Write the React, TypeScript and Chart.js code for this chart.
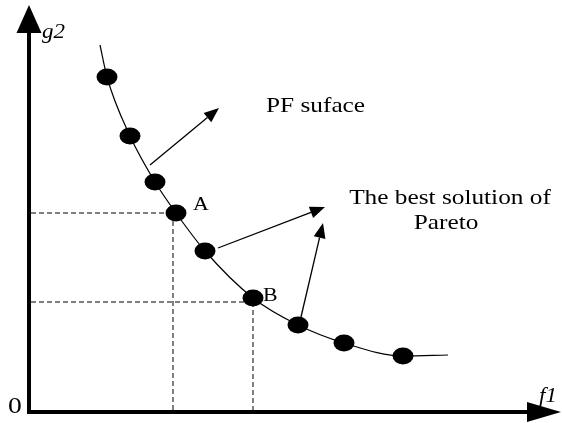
import React, { useEffect, useRef } from "react";
import { Chart, registerables } from "chart.js";

Chart.register(...registerables);

// Pareto front solutions (f1, g2)
const solF1 = [78, 101, 126, 147, 176, 224, 269, 315, 374];
const solG2 = [335, 276, 230, 199, 161, 114, 87, 69, 56];

// PF surface curve (runs through the solutions, extends past both ends)
const curveF1 = [71, 78, 101, 126, 147, 176, 224, 269, 315, 374, 419];
const curveG2 = [367, 335, 276, 230, 199, 161, 114, 87, 69, 56, 57];

// Projection guides for solutions A and B
const guideF1 = [144, 224];
const guideG2 = [199, 110];

// Arrows: from (f1, g2) to (f1, g2)
const arrowFromF1 = [121, 189, 272];
const arrowFromG2 = [247, 164, 95];
const arrowToF1 = [190, 296, 294];
const arrowToG2 = [304, 205, 189];

// Axis extents
const axisMaxF1 = 532;
const axisMaxG2 = 407;

// Text labels
const labelTexts = ["g2", "f1", "0", "A", "B", "PF suface", "The best solution of", "Pareto"];
const labelF1 = [13, 510, -21, 164, 234, 237, 421, 417];
const labelG2 = [374, 10, -1, 202, 111, 300, 208, 183];

const SERIF = "'Liberation Serif', 'Times New Roman', serif";

export default function App() {
  const ref = useRef<HTMLCanvasElement | null>(null);

  useEffect(() => {
    const canvas = ref.current;
    if (!canvas) return;
    let chart: Chart | null = null;
    let cancelled = false;

    const dot = document.createElement("canvas");
    dot.width = 22;
    dot.height = 18;
    const dctx = dot.getContext("2d")!;
    dctx.fillStyle = "#000";
    dctx.beginPath();
    dctx.ellipse(11, 9, 10.5, 8.5, 0, 0, Math.PI * 2);
    dctx.fill();

    const labelStyles = [
      { font: `italic 20px ${SERIF}`, align: "left" },
      { font: `italic 20px ${SERIF}`, align: "left" },
      { font: `24px ${SERIF}`, align: "left" },
      { font: `19px ${SERIF}`, align: "left" },
      { font: `19px ${SERIF}`, align: "left" },
      { font: `22px ${SERIF}`, align: "left" },
      { font: `22px ${SERIF}`, align: "center" },
      { font: `22px ${SERIF}`, align: "center" },
    ];

    const decor = {
      id: "decor",
      beforeDatasetsDraw(c: any) {
        const ctx = c.ctx as CanvasRenderingContext2D;
        const xs = c.scales.x;
        const ys = c.scales.y;
        const x0 = xs.getPixelForValue(0);
        const y0 = ys.getPixelForValue(0);
        ctx.save();
        ctx.strokeStyle = "#000";
        ctx.lineWidth = 1;
        ctx.setLineDash([5, 3]);
        for (let i = 0; i < guideF1.length; i++) {
          const gx = xs.getPixelForValue(guideF1[i]);
          const gy = ys.getPixelForValue(guideG2[i]);
          ctx.beginPath();
          ctx.moveTo(x0 + 2, gy);
          ctx.lineTo(gx, gy);
          ctx.moveTo(gx, gy);
          ctx.lineTo(gx, y0 - 2);
          ctx.stroke();
        }
        ctx.restore();
      },
      afterDatasetsDraw(c: any) {
        const ctx = c.ctx as CanvasRenderingContext2D;
        const xs = c.scales.x;
        const ys = c.scales.y;
        const x0 = xs.getPixelForValue(0);
        const y0 = ys.getPixelForValue(0);
        const xEnd = xs.getPixelForValue(axisMaxF1);
        const yEnd = ys.getPixelForValue(axisMaxG2);
        ctx.save();
        ctx.fillStyle = "#000";
        ctx.strokeStyle = "#000";
        // axes
        ctx.lineWidth = 4;
        ctx.beginPath();
        ctx.moveTo(x0, y0 + 2);
        ctx.lineTo(x0, yEnd + 20);
        ctx.moveTo(x0 - 2, y0);
        ctx.lineTo(xEnd - 20, y0);
        ctx.stroke();
        ctx.beginPath();
        ctx.moveTo(x0, yEnd);
        ctx.lineTo(x0 - 12.5, yEnd + 28);
        ctx.lineTo(x0 + 12.5, yEnd + 28);
        ctx.closePath();
        ctx.fill();
        ctx.beginPath();
        ctx.moveTo(xEnd, y0);
        ctx.lineTo(xEnd - 34, y0 - 10);
        ctx.lineTo(xEnd - 34, y0 + 10);
        ctx.closePath();
        ctx.fill();
        // arrows
        ctx.lineWidth = 1.3;
        for (let i = 0; i < arrowFromF1.length; i++) {
          const ax = xs.getPixelForValue(arrowFromF1[i]);
          const ay = ys.getPixelForValue(arrowFromG2[i]);
          const bx = xs.getPixelForValue(arrowToF1[i]);
          const by = ys.getPixelForValue(arrowToG2[i]);
          const ang = Math.atan2(by - ay, bx - ax);
          const len = 15;
          const hw = 6;
          const cx = bx - len * Math.cos(ang);
          const cy = by - len * Math.sin(ang);
          ctx.beginPath();
          ctx.moveTo(ax, ay);
          ctx.lineTo(cx, cy);
          ctx.stroke();
          ctx.beginPath();
          ctx.moveTo(bx, by);
          ctx.lineTo(cx - hw * Math.sin(ang), cy + hw * Math.cos(ang));
          ctx.lineTo(cx + hw * Math.sin(ang), cy - hw * Math.cos(ang));
          ctx.closePath();
          ctx.fill();
        }
        // labels
        ctx.textBaseline = "alphabetic";
        for (let i = 0; i < labelTexts.length; i++) {
          const lx = xs.getPixelForValue(labelF1[i]);
          const ly = ys.getPixelForValue(labelG2[i]);
          ctx.save();
          ctx.font = labelStyles[i].font;
          ctx.textAlign = labelStyles[i].align as CanvasTextAlign;
          ctx.translate(lx, ly);
          ctx.scale(1.15, 1);
          ctx.fillText(labelTexts[i], 0, 0);
          ctx.restore();
        }
        ctx.restore();
      },
    };

    const build = () => {
      if (cancelled) return;
      chart = new Chart(canvas, {
        type: "scatter",
        data: {
          datasets: [
            {
              label: "PF surface",
              data: curveF1.map((x, i) => ({ x, y: curveG2[i] })),
              showLine: true,
              borderColor: "#000",
              borderWidth: 1.2,
              pointRadius: 0,
              cubicInterpolationMode: "monotone",
              clip: false as any,
              order: 2,
            },
            {
              label: "Solutions",
              data: solF1.map((x, i) => ({ x, y: solG2[i] })),
              showLine: false,
              pointStyle: dot as any,
              pointRadius: 10,
              clip: false as any,
              order: 1,
            },
          ],
        },
        options: {
          animation: false,
          responsive: false,
          devicePixelRatio: 1,
          layout: { padding: 0, autoPadding: false } as any,
          plugins: { legend: { display: false }, tooltip: { enabled: false } },
          events: [],
          scales: {
            x: { type: "linear", display: false, min: -29, max: 533 },
            y: { type: "linear", display: false, min: -11, max: 412 },
          },
        },
        plugins: [decor],
      });
    };

    const fonts = (document as any).fonts;
    if (fonts && fonts.load) {
      Promise.all([
        fonts.load("22px 'Liberation Serif'"),
        fonts.load("italic 20px 'Liberation Serif'"),
      ]).then(build, build);
    } else {
      build();
    }

    return () => {
      cancelled = true;
      if (chart) chart.destroy();
    };
  }, []);

  return (
    <div style={{ position: "fixed", left: 0, top: 0, width: 562, height: 423, background: "#fff" }}>
      <canvas ref={ref} width={562} height={423} style={{ display: "block" }} />
    </div>
  );
}
